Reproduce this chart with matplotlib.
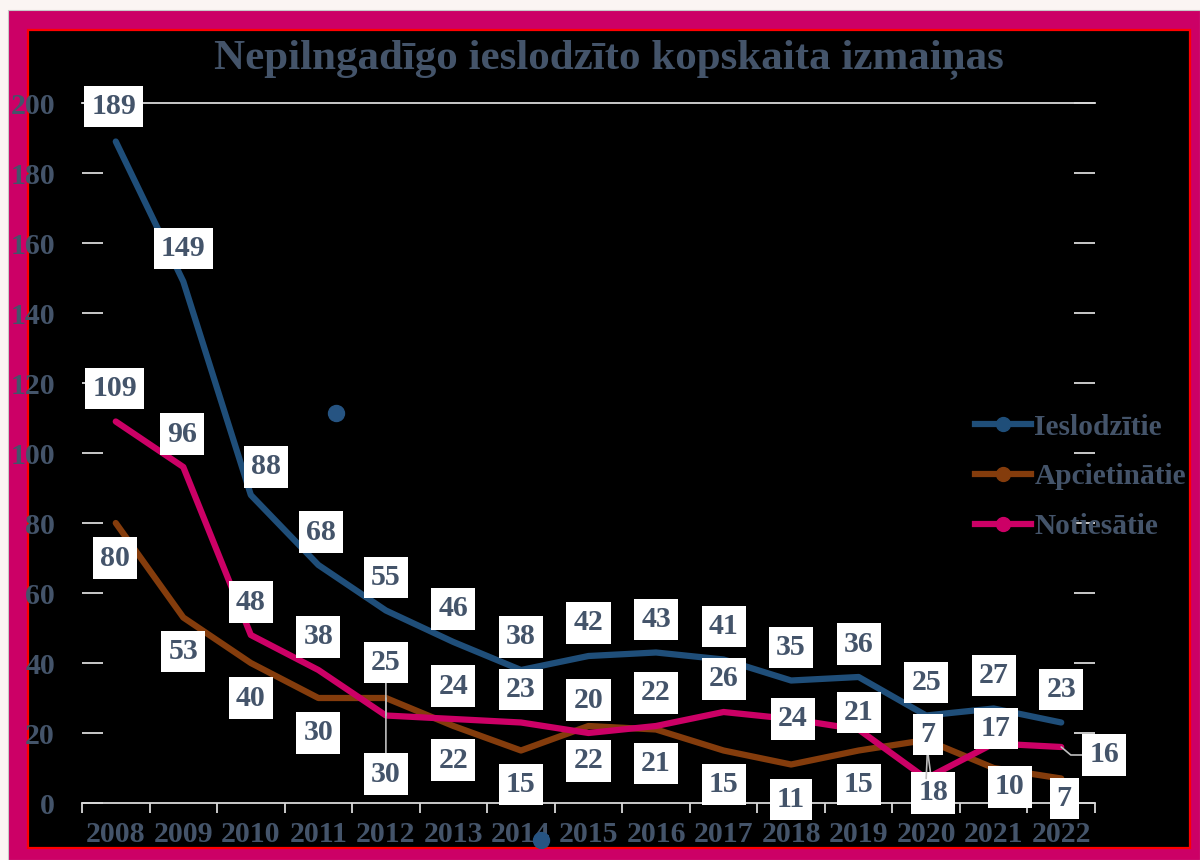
import matplotlib.pyplot as plt
from matplotlib.lines import Line2D
from matplotlib.patches import Rectangle

plt.rcParams['font.family'] = ['Liberation Serif', 'DejaVu Serif']
plt.rcParams['font.weight'] = 'bold'

gadi = [2008, 2009, 2010, 2011, 2012, 2013, 2014, 2015, 2016, 2017, 2018, 2019, 2020, 2021, 2022]
ieslodzitie = [189, 149, 88, 68, 55, 46, 38, 42, 43, 41, 35, 36, 25, 27, 23]
apcietinatie = [80, 53, 40, 30, 30, 22, 15, 22, 21, 15, 11, 15, 18, 10, 7]
notiesatie = [109, 96, 48, 38, 25, 24, 23, 20, 22, 26, 24, 21, 7, 17, 16]
nosaukumi = ['Ieslodzītie', 'Apcietinātie', 'Notiesātie']
virsraksts = 'Nepilngadīgo ieslodzīto kopskaita izmaiņas'

krasas = ['#1F4E79', '#843C0C', '#CC0066']
teksts = '#44546A'
balts = '#D9D9D9'

# datu etiketes: nobidi pikseļos no punkta
nob_iesl = [(-2, 35), (0, 33), (15, 28), (3, 33)] + [(0, 33)] * 11
nob_apc = [(-1, -35), (0, -34), (0, -35), (0, -35), (0, -76), (0, -34), (0, -34), (0, -35),
           (0, -34), (0, -34), (0, -35), (0, -34), (7, -53), (16, -19), (3, -20)]
nob_not = [(-1, 33), (-1, 33), (0, 33), (0, 33), (0, 53), (0, 33), (0, 33), (0, 33),
           (0, 33), (0, 33), (2, 0), (0, 17), (2, 44), (2, 15), (43, -8)]
lideri = {(1, 4): 'arc3', (1, 12): 'arc3', (2, 4): 'arc3', (2, 12): 'arc3',
          (2, 14): 'angle,angleA=0,angleB=-40,rad=0'}

fig = plt.figure(figsize=(12, 8.6), dpi=100, facecolor='#FBF5F3')
fig.add_artist(Rectangle((8 / 1200, 0), 1192 / 1200, 850 / 860, transform=fig.transFigure,
                         fc='#CC0066', ec='#C8C8C8', lw=0.8, zorder=-3))
melns = Rectangle((28 / 1200, 12 / 860), 1162 / 1200, 818 / 860, transform=fig.transFigure,
                  fc='black', ec='#FF0000', lw=1.6, zorder=-2)
fig.add_artist(melns)

ax = fig.add_axes([82 / 1200, 57 / 860, 1013 / 1200, 700 / 860])
ax.patch.set_visible(False)

serijas = [ieslodzitie, apcietinatie, notiesatie]
nobidi = [nob_iesl, nob_apc, nob_not]
for s, (vert, c) in enumerate(zip(serijas, krasas)):
    ax.plot(gadi, vert, color=c, lw=4.5, solid_capstyle='round', solid_joinstyle='round', zorder=2)

for s, vert in enumerate(serijas):
    for i, (g, v) in enumerate(zip(gadi, vert)):
        ap = None
        if (s, i) in lideri:
            ap = dict(arrowstyle='-', color='#BFBFBF', lw=1.2, shrinkA=0, shrinkB=0,
                      connectionstyle=lideri[(s, i)])
        ax.annotate(str(v), (g, v), xytext=nobidi[s][i], textcoords='offset pixels',
                    ha='center', va='center', fontsize=21.5, color=teksts,
                    bbox=dict(boxstyle='square,pad=0.24', fc='white', ec='none'),
                    arrowprops=ap, zorder=4, annotation_clip=False)

ax.set_xlim(2007.5, 2022.5)
ax.set_ylim(0, 200)
ax.set_yticks(range(0, 201, 20))
ax.set_xticks(gadi)
ax.set_xticks([g - 0.5 for g in gadi] + [gadi[-1] + 0.5], minor=True)
ax.tick_params(axis='x', which='major', length=0, pad=13, labelsize=21.5, labelcolor=teksts)
ax.tick_params(axis='x', which='minor', length=7, width=1.3, color=balts, direction='out')
ax.tick_params(axis='y', direction='in', left=True, right=True, length=15, width=1.3,
               color=balts, pad=19.5, labelsize=21.5, labelcolor=teksts)
ax.axhline(200, color=balts, lw=1.3, clip_on=False)
for sp in ['left', 'right', 'top']:
    ax.spines[sp].set_visible(False)
ax.spines['bottom'].set_color(balts)
ax.spines['bottom'].set_linewidth(1.3)

rokturi = [Line2D([0], [0], color=c, lw=4.5, marker='o', ms=10) for c in krasas]
leg = ax.legend(rokturi, nosaukumi, loc='center left', bbox_to_anchor=(975 / 1200, 1 - 477 / 860),
                bbox_transform=fig.transFigure, frameon=False, fontsize=21.2, handlelength=1.9,
                handletextpad=0.12, labelspacing=0.78, borderpad=0, borderaxespad=0)
for t in leg.get_texts():
    t.set_color(teksts)

# divi klaiņojoši punkti no oriģināla
ax.plot([336 / 1200], [1 - 413 / 860], 'o', color='#265482', ms=11.5,
        transform=fig.transFigure, clip_on=False)
p, = ax.plot([541 / 1200], [1 - 840 / 860], 'o', color='#265482', ms=11.5,
             transform=fig.transFigure)
p.set_clip_path(melns)

fig.text(0.5075, 1 - 59 / 860, virsraksts, ha='center', va='center', fontsize=31, color=teksts)

fig.savefig('out.png', dpi=100, facecolor=fig.get_facecolor())
